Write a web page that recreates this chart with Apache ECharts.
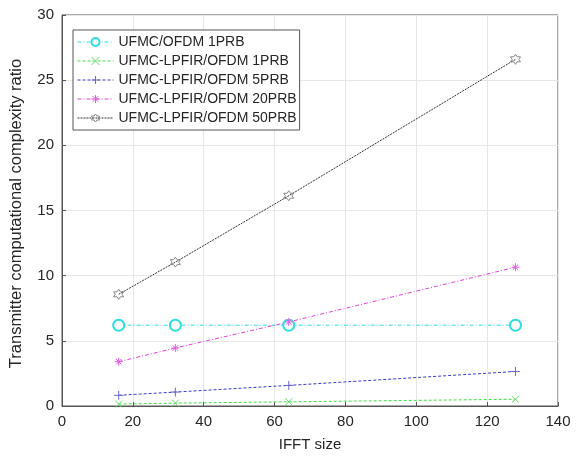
<!DOCTYPE html>
<html><head><meta charset="utf-8">
<script src="https://cdn.jsdelivr.net/npm/echarts@6/dist/echarts.min.js"></script>
<style>html,body{margin:0;padding:0;background:#fff}#c{width:585px;height:457px}</style>
</head><body><div id="c"></div>
<script>
const ifftSizes = [16, 32, 64, 128];
const ufmc1 = [6.2, 6.2, 6.2, 6.2];
const lpfir1 = [0.15, 0.22, 0.32, 0.52];
const lpfir5 = [0.82, 1.07, 1.58, 2.65];
const lpfir20 = [3.4, 4.45, 6.45, 10.65];
const lpfir50 = [8.57, 11.04, 16.13, 26.6];
const names = ['UFMC/OFDM 1PRB','UFMC-LPFIR/OFDM 1PRB','UFMC-LPFIR/OFDM 5PRB','UFMC-LPFIR/OFDM 20PRB','UFMC-LPFIR/OFDM 50PRB'];
const colors = ['#2fdde0', '#44dd44', '#3a3acc', '#e040e0', '#333333'];
const markerColors = ['#2fdde0', '#66dd66', '#6a6acc', '#e060e0', '#888888'];

const X = 'path://M0,0L10,10M10,0L0,10';
const PLUS = 'path://M5,0L5,10M0,5L10,5';
const AST = 'path://M5,0L5,10M0,5L10,5M1.5,1.5L8.5,8.5M8.5,1.5L1.5,8.5';
const HEX = 'path://M5,0L6.44,2.5L9.33,2.5L7.89,5L9.33,7.5L6.44,7.5L5,10L3.56,7.5L0.67,7.5L2.11,5L0.67,2.5L3.56,2.5Z';
const symbols = ['emptyCircle', X, PLUS, AST, HEX];
const sizes = [11, 7, 9, 8, 10];
const dashes = [[4, 2, 1, 2], [3, 2], [3, 2], [4, 2, 1, 2], [2, 1]];
const values = [ufmc1, lpfir1, lpfir5, lpfir20, lpfir50];

function itemStyleFor(i) {
  return symbols[i] === 'emptyCircle'
    ? { color: colors[i], borderColor: colors[i], borderWidth: 1.5 }
    : { color: 'rgba(0,0,0,0)', borderColor: markerColors[i], borderWidth: 1 };
}

const series = names.map((name, i) => ({
  name, type: 'line', data: ifftSizes.map((x, j) => [x, values[i][j]]),
  symbol: symbols[i], symbolSize: sizes[i], showSymbol: true,
  lineStyle: { color: colors[i], width: 1, type: dashes[i] },
  itemStyle: itemStyleFor(i),
  emphasis: { disabled: true }, z: 3
}));

const font = 'Liberation Sans, Arial, sans-serif';
const chart = echarts.init(document.getElementById('c'));
chart.setOption({
  animation: false,
  backgroundColor: '#fff',
  grid: { left: 58, right: 27, top: 15, bottom: 48, show: true, borderColor: '#555', borderWidth: 1, backgroundColor: 'rgba(0,0,0,0)' },
  legend: {
    orient: 'vertical', left: 73, top: 30, padding: [5, 3, 5, 4],
    backgroundColor: '#fff', borderColor: '#555', borderWidth: 1, borderRadius: 0,
    itemWidth: 36, itemHeight: 10, itemGap: 5,
    textStyle: { fontFamily: font, fontSize: 14, color: '#262626' },
    data: names.map((n, i) => ({ name: n, itemStyle: itemStyleFor(i), lineStyle: { width: 1, color: colors[i], type: dashes[i] } }))
  },
  xAxis: {
    type: 'value', min: 0, max: 140, interval: 20,
    name: 'IFFT size', nameLocation: 'middle', nameGap: 31,
    nameTextStyle: { fontFamily: font, fontSize: 15, color: '#262626' },
    axisLine: { show: true, lineStyle: { color: '#555' } },
    axisTick: { show: true, inside: true, length: 4, lineStyle: { color: '#555' } },
    axisLabel: { fontFamily: font, fontSize: 15, color: '#262626', margin: 8 },
    splitLine: { show: true, lineStyle: { color: '#e6e6e6' } }
  },
  yAxis: {
    type: 'value', min: 0, max: 30, interval: 5,
    name: 'Transmitter computational complexity ratio', nameLocation: 'middle', nameGap: 37,
    nameTextStyle: { fontFamily: font, fontSize: 16.5, color: '#262626', padding: [0, 6, 0, 0] },
    axisLine: { show: true, lineStyle: { color: '#555' } },
    axisTick: { show: true, inside: true, length: 4, lineStyle: { color: '#555' } },
    axisLabel: { fontFamily: font, fontSize: 15, color: '#262626', margin: 8 },
    splitLine: { show: true, lineStyle: { color: '#e6e6e6' } }
  },
  series
});
</script></body></html>
